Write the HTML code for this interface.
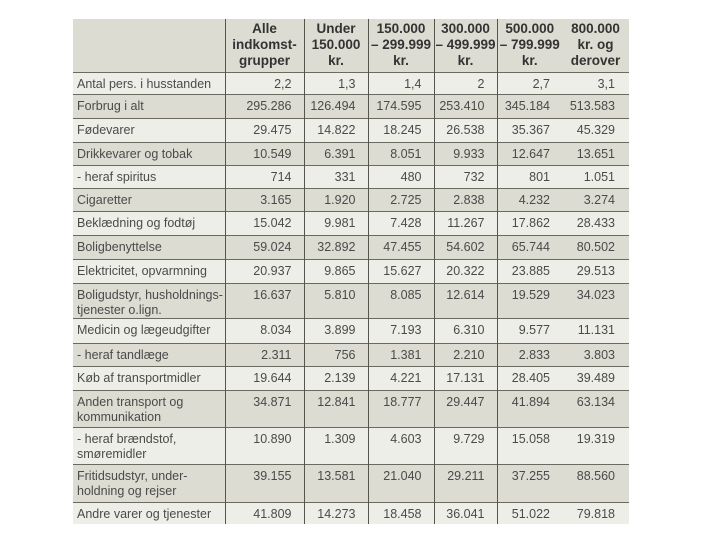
<!DOCTYPE html>
<html><head><meta charset="utf-8">
<style>
body{margin:0;width:720px;height:540px;background:#fff;overflow:hidden;font-family:"Liberation Sans",sans-serif;}
table{position:absolute;left:73px;top:19px;border-collapse:collapse;table-layout:fixed;width:556px;color:#4a4a4a;font-size:12.5px;}
td,th{padding:0;border-top:1px solid #6a6a60;vertical-align:top;line-height:15px;}
td{padding-top:4px;}
td.l{padding-left:4px;white-space:nowrap;overflow:hidden;}
td.n{text-align:right;padding-right:12px;border-left:1px solid #55554c;}
td.n.last{padding-right:14px;}
td.n.nb{border-left:none;}
th{font-weight:bold;text-align:center;vertical-align:middle;line-height:16px;font-size:13.5px;border-top:none;color:#333;}
th+th{border-left:1px solid #55554c;}
th.nb{border-left:none;}
tr.d{background:#dcdcd2;}
tr.w{background:#eeeee8;}
</style></head><body>
<table>
<colgroup><col style="width:152px"><col style="width:79px"><col style="width:64px"><col style="width:66px"><col style="width:63px"><col style="width:65px"><col style="width:67px"></colgroup>
<tr class="d" style="height:53px">
<th></th><th>Alle<br>indkomst-<br>grupper</th><th>Under<br>150.000<br>kr.</th><th>150.000<br>– 299.999<br>kr.</th><th>300.000<br>– 499.999<br>kr.</th><th>500.000<br>– 799.999<br>kr.</th><th class="nb">800.000<br>kr. og<br>derover</th></tr>
<tbody id="tb"></tbody>
</table>
<script>
const labels=["Antal pers. i husstanden","Forbrug i alt","Fødevarer","Drikkevarer og tobak","- heraf spiritus","Cigaretter","Beklædning og fodtøj","Boligbenyttelse","Elektricitet, opvarmning","Boligudstyr, husholdnings-<br>tjenester o.lign.","Medicin og lægeudgifter","- heraf tandlæge","Køb af transportmidler","Anden transport og<br>kommunikation","- heraf brændstof,<br>smøremidler","Fritidsudstyr, under-<br>holdning og rejser","Andre varer og tjenester"];
const values=[["2,2","1,3","1,4","2","2,7","3,1"],["295.286","126.494","174.595","253.410","345.184","513.583"],["29.475","14.822","18.245","26.538","35.367","45.329"],["10.549","6.391","8.051","9.933","12.647","13.651"],["714","331","480","732","801","1.051"],["3.165","1.920","2.725","2.838","4.232","3.274"],["15.042","9.981","7.428","11.267","17.862","28.433"],["59.024","32.892","47.455","54.602","65.744","80.502"],["20.937","9.865","15.627","20.322","23.885","29.513"],["16.637","5.810","8.085","12.614","19.529","34.023"],["8.034","3.899","7.193","6.310","9.577","11.131"],["2.311","756","1.381","2.210","2.833","3.803"],["19.644","2.139","4.221","17.131","28.405","39.489"],["34.871","12.841","18.777","29.447","41.894","63.134"],["10.890","1.309","4.603","9.729","15.058","19.319"],["39.155","13.581","21.040","29.211","37.255","88.560"],["41.809","14.273","18.458","36.041","51.022","79.818"]];
const heights=[22,24,24,23,23,23,24,24,24,35,25,23,24,37,37,38,22];
const tb=document.getElementById('tb');
labels.forEach((lab,i)=>{
  const tr=document.createElement('tr');
  tr.className=i%2?'d':'w';
  tr.style.height=heights[i]+'px';
  
  
  let h='<td class="l">'+lab+'</td>';
  values[i].forEach((v,j)=>{
    let c='n'+(j==5?' nb last':'');
    h+='<td class="'+c+'">'+v+'</td>';
  });
  tr.innerHTML=h;
  tb.appendChild(tr);
});
</script>
</body></html>
